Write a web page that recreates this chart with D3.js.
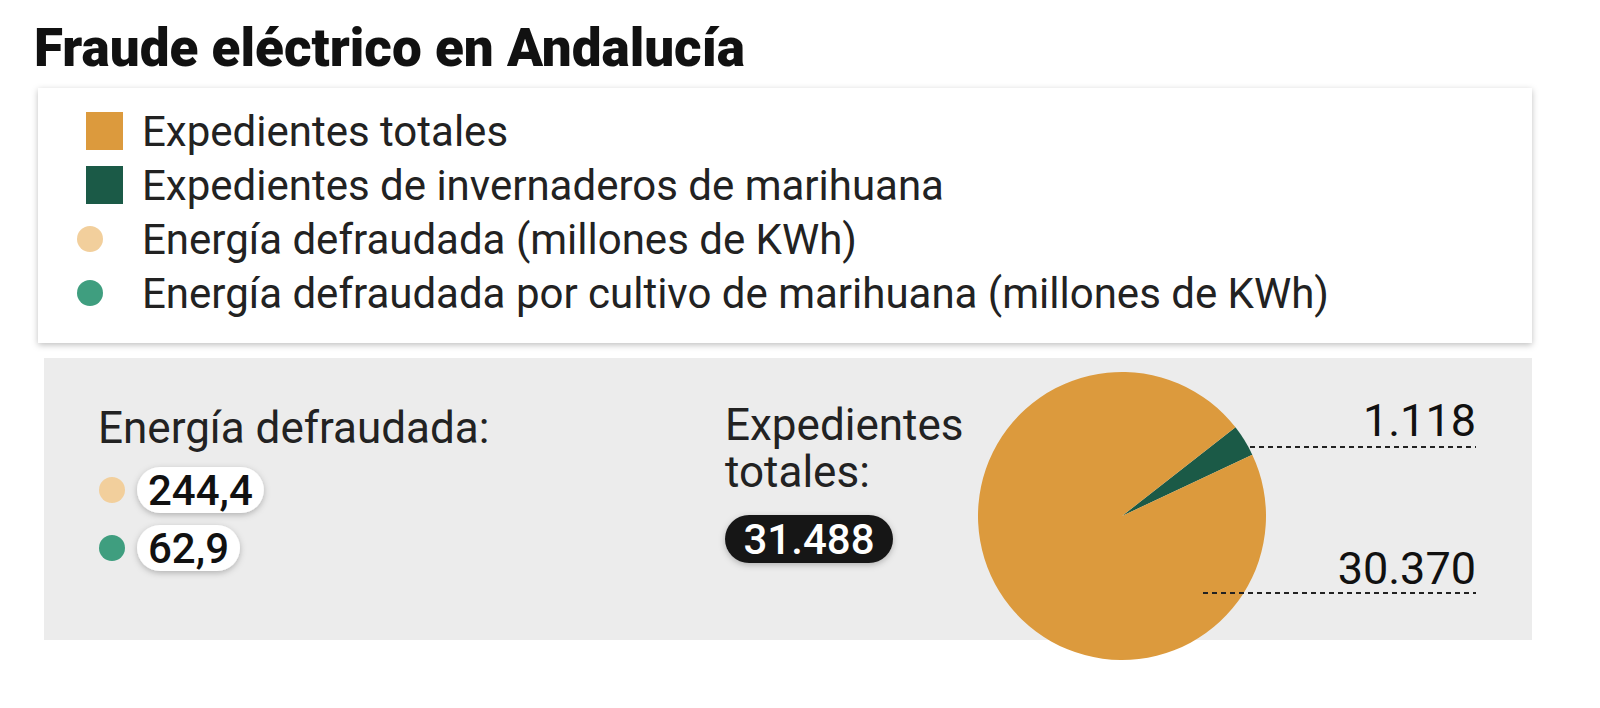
<!DOCTYPE html>
<html><head><meta charset="utf-8">
<script src="https://cdn.jsdelivr.net/npm/d3@7"></script>
<style>body{margin:0;background:#fff;font-family:Roboto,sans-serif}</style>
</head><body><svg id="c" width="1600" height="708"></svg>
<script>
const title = "Fraude eléctrico en Andalucía";
const legendLabels = ["Expedientes totales","Expedientes de invernaderos de marihuana","Energía defraudada (millones de KWh)","Energía defraudada por cultivo de marihuana (millones de KWh)"];
const legendColors = ["#dc9a3d","#1b5a47","#f2cf9c","#3f9e7f"];
const legendShapes = ["rect","rect","circle","circle"];
const energyValues = [244.4, 62.9];
const energyLabels = ["244,4","62,9"];
const sliceNames = ["marihuana","resto"];
const sliceValues = [1118, 30370];
const sliceLabels = ["1.118","30.370"];
const totalLabel = "31.488";

const svg = d3.select("#c");
const defs = svg.append("defs");
const f = defs.append("filter").attr("id","sh").attr("x","-10%").attr("y","-30%").attr("width","120%").attr("height","160%");
f.append("feDropShadow").attr("dx",0).attr("dy",2).attr("stdDeviation",3).attr("flood-opacity",0.25);

svg.append("text").attr("x",34).attr("y",66).attr("font-size",53).attr("font-weight",900).attr("fill","#111").text(title);

// legend
svg.append("rect").attr("x",38).attr("y",88).attr("width",1494).attr("height",255).attr("fill","#fff").attr("filter","url(#sh)");
const ly = d3.scaleBand().domain(d3.range(legendLabels.length)).range([104,320]);
legendLabels.forEach((t,i)=>{
  const cy = ly(i)+ly.bandwidth()/2;
  if(legendShapes[i]==="rect") svg.append("rect").attr("x",86).attr("y",cy-19).attr("width",37).attr("height",38).attr("fill",legendColors[i]);
  else svg.append("circle").attr("cx",90).attr("cy",cy).attr("r",13).attr("fill",legendColors[i]);
  svg.append("text").attr("x",142).attr("y",cy+15).attr("font-size",42).attr("fill","#222").text(t);
});

// panel
svg.append("rect").attr("x",44).attr("y",358).attr("width",1488).attr("height",282).attr("fill","#ececec");

svg.append("text").attr("x",98).attr("y",443).attr("font-size",44).attr("fill","#222").text("Energía defraudada:");
const ey = d3.scaleBand().domain(d3.range(energyValues.length)).range([461,577]);
const pillG = svg.append("g"), txtG = svg.append("g");
energyLabels.forEach((t,i)=>{
  const cy = ey(i)+ey.bandwidth()/2;
  svg.append("circle").attr("cx",112).attr("cy",cy).attr("r",13).attr("fill",legendColors[2+i]);
  const tx = txtG.append("text").attr("x",148).attr("y",cy+15).attr("font-size",42).attr("font-weight",500).attr("fill","#111").text(t);
  const w = tx.node().getComputedTextLength();
  pillG.append("rect").attr("x",137).attr("y",cy-23).attr("width",w+22).attr("height",46).attr("rx",23).attr("fill","#fff").attr("filter","url(#sh)");
});

svg.append("text").attr("x",725).attr("y",440).attr("font-size",44).attr("fill","#222").text("Expedientes");
svg.append("text").attr("x",725).attr("y",487).attr("font-size",44).attr("fill","#222").text("totales:");
svg.append("rect").attr("x",725).attr("y",515).attr("width",168).attr("height",48).attr("rx",24).attr("fill","#161616").attr("filter","url(#sh)");
svg.append("text").attr("x",809).attr("y",554).attr("text-anchor","middle").attr("font-size",42).attr("font-weight",500).attr("fill","#fff").text(totalLabel);

// pie
const cx=1122, cy=516, R=144;
const start = 52*Math.PI/180;
const pie = d3.pie().sort(null).startAngle(start).endAngle(start+2*Math.PI);
const arc = d3.arc().innerRadius(0).outerRadius(R);
const g = svg.append("g").attr("transform",`translate(${cx},${cy})`);
g.selectAll("path").data(pie(sliceValues)).join("path").attr("d",arc).attr("fill",(d,i)=>legendColors[i===0?1:0]);

const lab = [{y:447, x0:1250, ty:436},{y:593, x0:1203, ty:584}];
sliceLabels.forEach((t,i)=>{
  svg.append("line").attr("x1",lab[i].x0).attr("x2",1476).attr("y1",lab[i].y).attr("y2",lab[i].y).attr("stroke","#222").attr("stroke-width",2).attr("stroke-dasharray","5,4");
  svg.append("text").attr("x",1476).attr("y",lab[i].ty).attr("text-anchor","end").attr("font-size",45).attr("fill","#111").text(t);
});
</script></body></html>
